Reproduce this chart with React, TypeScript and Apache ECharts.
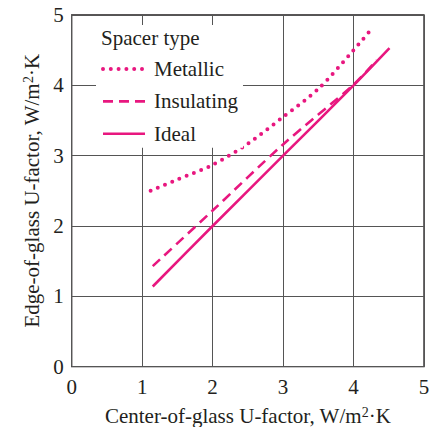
import React, { useEffect, useRef } from "react";
import * as echarts from "echarts";

const xTicks = [0, 1, 2, 3, 4, 5];
const yTicks = [0, 1, 2, 3, 4, 5];

const metallic: [number, number][] = [
  [1.12, 2.5], [1.5, 2.66], [2, 2.87], [2.5, 3.17], [3, 3.55], [3.5, 3.95], [4, 4.5], [4.23, 4.77],
];
const insulating: [number, number][] = [
  [1.15, 1.43], [2, 2.22], [3, 3.16], [4, 4.01], [4.33, 4.36],
];
const ideal: [number, number][] = [
  [1.15, 1.14], [2, 2.0], [3, 3.0], [4, 4.0], [4.51, 4.53],
];

const seriesNames = ["Metallic", "Insulating", "Ideal"];
const legendTitle = "Spacer type";
const xTitle = "Center-of-glass U-factor, W/m{sup|2}·K";
const yTitle = "Edge-of-glass U-factor, W/m{sup|2}·K";

const PINK = "#e8177f";
const FONT = "'Liberation Serif', 'DejaVu Serif', serif";
const TXT = "#231f20";
const FS = 21;

const dotted = { color: PINK, width: 4, type: [0, 7.8], cap: "round" };
const dashed = { color: PINK, width: 2.6, type: [10, 6] };
const solid = { color: PINK, width: 2.6, type: "solid" };

export default function App() {
  const ref = useRef<HTMLDivElement>(null);
  useEffect(() => {
    if (!ref.current) return;
    const chart = echarts.init(ref.current, undefined, { renderer: "svg" });
    const nameStyle = {
      fontFamily: FONT,
      fontSize: FS,
      color: TXT,
      lineHeight: 20,
      rich: {
        sup: { fontFamily: FONT, fontSize: 14, color: TXT, verticalAlign: "top", lineHeight: 13 },
      },
    };
    chart.setOption({
      animation: false,
      backgroundColor: "#ffffff",
      grid: {
        left: 71.7,
        right: 7,
        top: 15,
        bottom: 60.3,
        show: true,
        borderColor: "#231f20",
        borderWidth: 1.3,
        containLabel: false,
        outerBoundsMode: "none",
      },
      title: {
        text: legendTitle,
        left: 101,
        top: 28,
        padding: 0,
        z: 10,
        textStyle: { fontFamily: FONT, fontSize: FS, fontWeight: "normal", color: TXT, lineHeight: 20 },
      },
      legend: {
        data: [
          { name: seriesNames[0], lineStyle: dotted },
          { name: seriesNames[1], lineStyle: dashed },
          { name: seriesNames[2], lineStyle: solid },
        ],
        orient: "vertical",
        left: 96,
        top: 25,
        padding: [33.5, 5, 3.5, 5],
        itemWidth: 42,
        itemHeight: 20,
        itemGap: 11.4,
        backgroundColor: "#ffffff",
        selectedMode: false,
        itemStyle: { opacity: 0, borderWidth: 0 },
        textStyle: { fontFamily: FONT, fontSize: FS, color: TXT, lineHeight: 20, padding: [0, 0, 0, 4] },
      },
      xAxis: {
        type: "value",
        min: xTicks[0],
        max: xTicks[xTicks.length - 1],
        interval: 1,
        name: xTitle,
        nameLocation: "middle",
        nameGap: 39,
        nameTextStyle: nameStyle,
        axisLine: { show: false },
        axisTick: { show: false },
        axisLabel: { fontFamily: FONT, fontSize: FS, color: TXT, margin: 10 },
        splitLine: { show: true, lineStyle: { color: "#555", width: 1 } },
      },
      yAxis: {
        type: "value",
        min: yTicks[0],
        max: yTicks[yTicks.length - 1],
        interval: 1,
        name: yTitle,
        nameLocation: "middle",
        nameGap: 30,
        nameTextStyle: nameStyle,
        axisLine: { show: false },
        axisTick: { show: false },
        axisLabel: { fontFamily: FONT, fontSize: FS, color: TXT, margin: 8 },
        splitLine: { show: true, lineStyle: { color: "#555", width: 1 } },
      },
      series: [
        {
          name: seriesNames[0],
          type: "line",
          data: metallic,
          smooth: 0.3,
          showSymbol: false,
          symbol: "none",
          lineStyle: dotted,
          itemStyle: { color: PINK },
          z: 3,
        },
        {
          name: seriesNames[1],
          type: "line",
          data: insulating,
          smooth: 0.3,
          showSymbol: false,
          symbol: "none",
          lineStyle: dashed,
          itemStyle: { color: PINK },
          z: 3,
        },
        {
          name: seriesNames[2],
          type: "line",
          data: ideal,
          smooth: 0.3,
          showSymbol: false,
          symbol: "none",
          lineStyle: solid,
          itemStyle: { color: PINK },
          z: 3,
        },
      ],
    });
    return () => chart.dispose();
  }, []);
  return (
    <div
      ref={ref}
      style={{ position: "fixed", left: 0, top: 0, width: 431, height: 427, background: "#fff" }}
    />
  );
}
